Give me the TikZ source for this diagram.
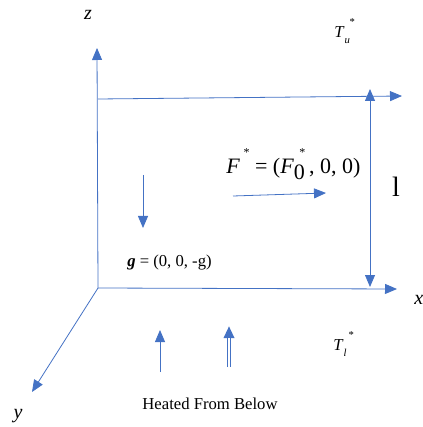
\documentclass[tikz,border=0pt]{standalone}
\usepackage{fontspec}
\setmainfont{Liberation Serif}
\usetikzlibrary{arrows.meta}
\definecolor{axisBlue}{HTML}{4472C4}
\newcommand{\starsub}[2]{\rlap{\raisebox{-.75ex}{\footnotesize #2}}\hspace{.3em}\raisebox{1.5ex}{\footnotesize #1}}
\newcommand{\bigstarsub}[2]{\rlap{\raisebox{-.55ex}{#2}}\hspace{.25em}\raisebox{1.7ex}{\small #1}}

\begin{document}
\begin{tikzpicture}[x=0.75pt,y=-0.75pt,
   >={Triangle[length=9pt,width=7.5pt]},
   axis/.style={draw=axisBlue,line width=0.6pt,->},
   lbl/.style={inner sep=0pt,font=\fontsize{12.5}{14}\selectfont}]
  \useasboundingbox (0,0) rectangle (422,427);
  \coordinate (O) at (98,288);
  \coordinate (zend) at (97,48);
  \coordinate (xend) at (397,289);
  \coordinate (yend) at (32,392);
  \coordinate (topl) at (98,99);
  \coordinate (topr) at (402,96);
  \coordinate (htop) at (370,89);
  \coordinate (hbot) at (370,287);
  \coordinate (gs) at (143,175);
  \coordinate (ge) at (143,228);
  \coordinate (fs) at (233,196);
  \coordinate (fe) at (326,193);
  \coordinate (qas) at (160,372);
  \coordinate (qae) at (160,330);
  \coordinate (qbs) at (229,367);
  \coordinate (qbe) at (229,326);

  \draw[axis] (O) -- (zend);
  \draw[axis] (O) -- (xend);
  \draw[axis] (O) -- (yend);
  \draw[axis] (topl) -- (topr);
  \draw[axis,<->] (hbot) -- (htop);
  \draw[axis] (gs) -- (ge);
  \draw[axis] (fs) -- (fe);
  \draw[axis] (qas) -- (qae);
  \draw[axis,line width=2.4pt] (qbs) -- (qbe);
  \draw[white,line width=1pt,shorten >=9pt] (qbs) -- (qbe);

  \node[lbl,font=\fontsize{15}{17}\selectfont] (zlab) at (88,15) {\textit{z}};
  \node[lbl,font=\fontsize{15}{17}\selectfont,anchor=west] (xlab) at (414,300) {\textit{x}};
  \node[lbl,font=\fontsize{15}{17}\selectfont] (ylab) at (18,416) {\textit{y}};
  \node[lbl,anchor=west] (tu) at (334,31) {\textit{T}\starsub{*}{\textit{u}}};
  \node[lbl,anchor=west] (tl) at (333,344) {\textit{T}\starsub{*}{\textit{l}}};
  \node[lbl,font=\fontsize{16.5}{18}\selectfont,anchor=west] (force) at (226,164)
    {\textit{F}\,\raisebox{1.7ex}{\small *} = (\textit{F}\bigstarsub{*}{0}\,, 0, 0)};
  \node[lbl,font=\fontsize{21}{24}\selectfont] (depth) at (396,187) {l};
  \node[lbl,anchor=west] (grav) at (127,263) {\textbf{\textit{g}} = (0, 0, -g)};
  \node[lbl] (heat) at (210,404) {Heated From Below};
\end{tikzpicture}
\end{document}
